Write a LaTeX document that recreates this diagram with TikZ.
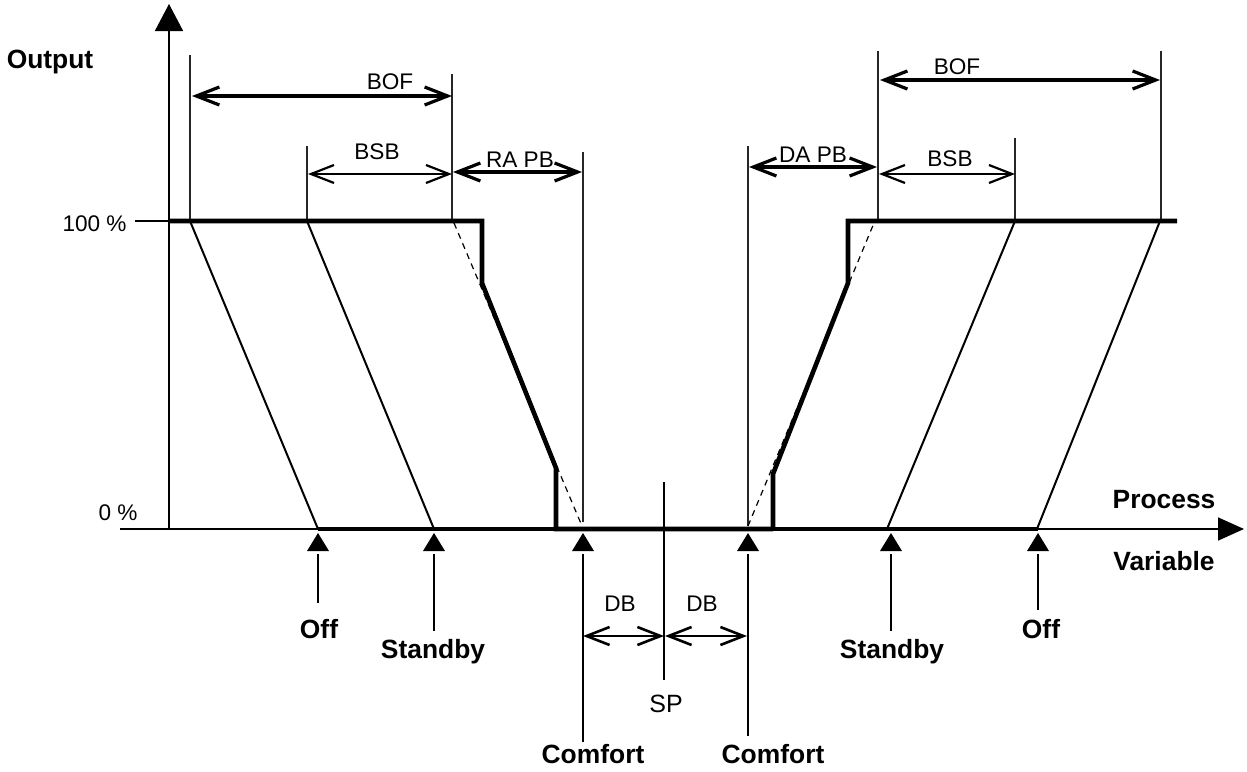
\documentclass[tikz,border=0pt]{standalone}
\usepackage{fontspec}
\setmainfont{Liberation Sans}
\usetikzlibrary{arrows.meta}
\tikzset{
  thin line/.style={line width=0.6pt, black!85},
  slant/.style={line width=1pt, black},
  curve/.style={line width=2.3pt, black, line join=miter},
  dashline/.style={line width=0.6pt, black, dash pattern=on 3pt off 2.5pt},
  dimthick/.style={line width=1.6pt, {Straight Barb[length=11.5pt,width=9pt]}-{Straight Barb[length=11.5pt,width=9pt]}},
  dimthin/.style={line width=1.1pt, {Straight Barb[length=11.5pt,width=9pt]}-{Straight Barb[length=11.5pt,width=9pt]}},
  dimdb/.style={line width=1.3pt, {Straight Barb[length=11.5pt,width=9pt]}-{Straight Barb[length=11.5pt,width=9pt]}},
  lab/.style={inner sep=0pt, font=\fontsize{11.3}{13}\selectfont, anchor=base},
  blab/.style={inner sep=0pt, font=\fontsize{13.2}{15}\selectfont\bfseries, anchor=base},
  stem/.style={line width=1.1pt},
  mark/.style={fill=black, draw=none}
}
\newcommand{\marker}[1]{\fill[black] (#1-11,551) -- (#1+11,551) -- (#1,533) -- cycle;}
\begin{document}
\begin{tikzpicture}[x=0.5pt,y=-0.5pt]
\useasboundingbox (0,0) rectangle (1247,771);
% axes
\coordinate (O) at (169,529);
\coordinate (ytip) at (169,4);
\coordinate (xstart) at (120,529);
\coordinate (xtip) at (1244,529);
\draw[line width=0.8pt, -{Triangle[length=13.5pt,width=14pt]}] (O) -- (ytip);
\draw[line width=0.8pt, -{Triangle[length=13pt,width=11.5pt]}] (xstart) -- (xtip);
\draw[line width=0.8pt] (135,221) -- (169,221);
% labels on axes
\node[blab] (output) at (50,68) {Output};
\node[lab, anchor=base east] (p100) at (127,231) {100 \%};
\node[lab, anchor=base east] (p0) at (138,520) {0 \%};
\node[blab] (process) at (1164,508) {Process};
\node[blab] (variable) at (1164,570) {Variable};
% vertical reference lines
\draw[thin line] (190,55) -- (190,221);
\draw[thin line] (307,146) -- (307,221);
\draw[thin line] (452,74) -- (452,221);
\draw[thin line] (583,152) -- (583,522);
\draw[thin line] (748,146) -- (748,526);
\draw[thin line] (878,51) -- (878,221);
\draw[thin line] (1015,138) -- (1015,221);
\draw[thin line] (1161,51) -- (1161,221);
\draw[line width=0.7pt] (664,482) -- (664,680);
% slanted thin lines
\draw[slant] (190,221) -- (318,529);
\draw[slant] (307,221) -- (434,529);
\draw[slant] (887,529) -- (1015,221);
\draw[slant] (1037,529) -- (1160,221);
% dashed extensions
\draw[dashline] (454,223) -- (582,526);
\draw[dashline] (748,526) -- (874,223);
% thick output curves
\draw[curve] (169,221) -- (482,221) -- (482,283) -- (556,468) -- (556,529) -- (773,529);
\draw[curve] (318,529) -- (556,529);
\draw[curve] (773,529) -- (773,474) -- (848,283) -- (848,221) -- (1177,221);
\draw[curve] (773,529) -- (1038,529);
% dimension arrows
\draw[dimthick] (192,96) -- (452,96);
\node[lab] (bof1) at (390,89) {BOF};
\draw[dimthin] (308,174) -- (452,174);
\node[lab] (bsb1) at (377,159) {BSB};
\draw[dimthick] (453,172) -- (582,172);
\node[lab] (rapb) at (520,167) {RA PB};
\draw[dimthick] (749,167) -- (877,167);
\node[lab] (dapb) at (813,162) {DA PB};
\draw[dimthin] (879,174) -- (1015,174);
\node[lab] (bsb2) at (950,166) {BSB};
\draw[dimthick] (880,80) -- (1160,80);
\node[lab] (bof2) at (957,74) {BOF};
\draw[dimdb] (583,636) -- (664,636);
\draw[dimdb] (665,636) -- (747,636);
\node[lab] (db1) at (620,611) {DB};
\node[lab] (db2) at (702,611) {DB};
\node[lab, font=\fontsize{12.5}{14}\selectfont] (sp) at (666,712) {SP};
% markers
\marker{318} \draw[stem] (318,554) -- (318,603);
\marker{434} \draw[stem] (434,554) -- (434,631);
\marker{583} \draw[stem] (583,554) -- (583,742);
\marker{748} \draw[stem] (748,554) -- (748,736);
\marker{891} \draw[stem] (891,554) -- (891,631);
\marker{1038} \draw[stem] (1038,554) -- (1038,610);
\node[blab] (off1) at (319,638) {Off};
\node[blab] (stby1) at (433,658) {Standby};
\node[blab] (comf1) at (593,763) {Comfort};
\node[blab] (comf2) at (773,763) {Comfort};
\node[blab] (stby2) at (892,658) {Standby};
\node[blab] (off2) at (1041,638) {Off};
\end{tikzpicture}
\end{document}
